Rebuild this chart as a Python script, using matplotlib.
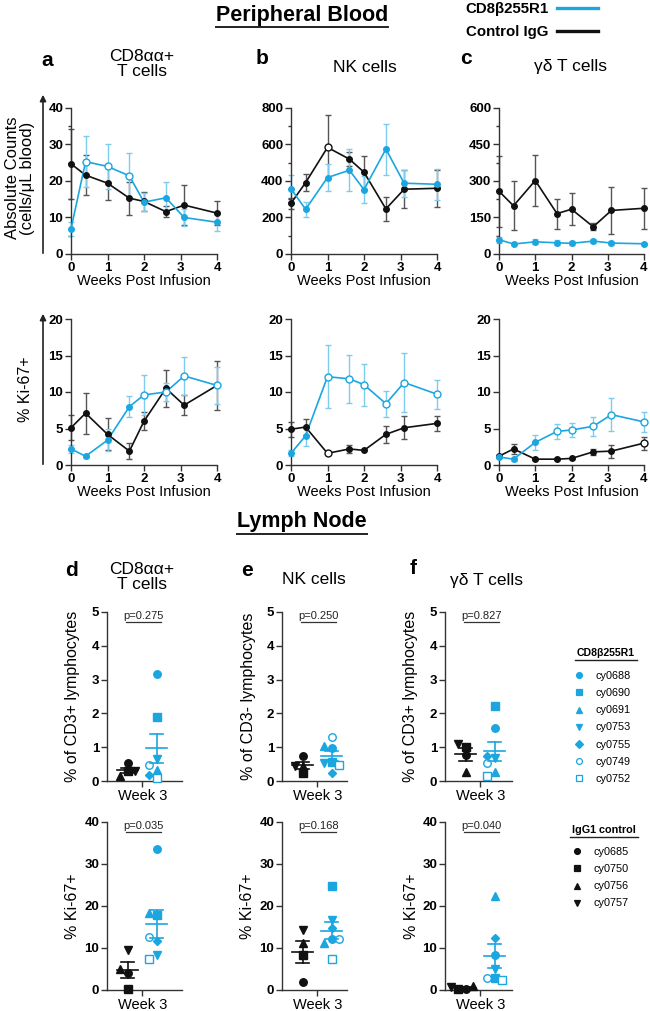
import numpy as np
import matplotlib
matplotlib.use('Agg')
import matplotlib.pyplot as plt
from matplotlib.lines import Line2D
from matplotlib.patches import FancyArrowPatch

# ---------------- DATA ----------------
weeks = [0, 0.4, 1, 1.6, 2, 2.6, 3.1, 4]

cd8_abs_trt = [6.9, 25.3, 24.0, 21.4, 14.2, 15.4, 10.0, 8.7]
cd8_abs_trt_err = [2.0, 7.0, 6.2, 6.2, 2.5, 4.2, 2.3, 2.3]
cd8_abs_ctl = [24.7, 21.6, 19.4, 15.3, 14.4, 11.6, 13.4, 11.2]
cd8_abs_ctl_err = [9.5, 5.5, 4.5, 4.5, 2.5, 1.5, 5.4, 3.2]

nk_abs_trt = [357, 245, 419, 459, 353, 575, 388, 382]
nk_abs_trt_err = [75, 40, 75, 115, 75, 140, 75, 85]
nk_abs_ctl = [278, 391, 584, 520, 448, 247, 355, 360]
nk_abs_ctl_err = [30, 45, 175, 40, 90, 65, 105, 100]

gd_abs_trt = [59, 41, 50, 46, 44, 53, 45, 42]
gd_abs_trt_err = [12, 5, 10, 10, 9, 8, 10, 5]
gd_abs_ctl = [258, 198, 302, 166, 184, 112, 179, 188]
gd_abs_ctl_err = [145, 100, 105, 62, 65, 15, 95, 85]

cd8_ki_trt = [2.2, 1.2, 3.4, 8.0, 9.6, 10.0, 12.2, 10.9]
cd8_ki_trt_err = [0.5, 0.2, 1.5, 1.4, 2.7, 1.3, 2.6, 2.5]
cd8_ki_ctl = [5.1, 7.1, 4.2, 1.9, 6.0, 10.5, 8.2, 10.9]
cd8_ki_ctl_err = [1.7, 2.8, 2.2, 1.1, 1.2, 2.5, 1.4, 3.3]

nk_ki_trt = [1.6, 4.0, 12.1, 11.8, 11.0, 8.4, 11.3, 9.7]
nk_ki_trt_err = [0.4, 1.4, 4.3, 3.3, 2.9, 1.8, 4.0, 2.0]
nk_ki_ctl = [4.9, 5.2, 1.6, 2.2, 2.0, 4.2, 5.1, 5.7]
nk_ki_ctl_err = [1.0, 1.1, 0.0, 0.6, 0.0, 1.2, 1.6, 1.0]

gd_ki_trt = [1.1, 0.8, 3.1, 4.6, 4.8, 5.3, 6.9, 5.9]
gd_ki_trt_err = [0.2, 0.2, 1.0, 1.0, 1.0, 1.3, 2.3, 1.4]
gd_ki_ctl = [1.2, 2.2, 0.8, 0.8, 0.9, 1.8, 1.9, 3.0]
gd_ki_ctl_err = [0.2, 0.7, 0.1, 0.1, 0.1, 0.4, 0.9, 0.9]

trt_animals = ['cy0688', 'cy0690', 'cy0691', 'cy0753', 'cy0755', 'cy0749', 'cy0752']
ctl_animals = ['cy0685', 'cy0750', 'cy0756', 'cy0757']

d_top_trt = [3.17, 1.90, 0.32, 0.65, 0.18, 0.47, 0.08]
d_top_ctl = [0.52, 0.30, 0.16, 0.30]
d_bot_trt = [33.5, 17.9, 18.4, 8.3, 11.7, 12.7, 7.3]
d_bot_ctl = [4.1, 0.2, 4.9, 9.5]
e_top_trt = [0.97, 0.57, 1.04, 0.54, 0.23, 1.31, 0.47]
e_top_ctl = [0.74, 0.23, 0.45, 0.45]
e_bot_trt = [12.1, 24.8, 11.3, 16.7, 14.7, 12.1, 7.3]
e_bot_ctl = [2.0, 8.3, 11.1, 14.4]
f_top_trt = [1.58, 2.22, 0.28, 0.69, 0.74, 0.52, 0.15]
f_top_ctl = [0.77, 1.00, 0.28, 1.09]
f_bot_trt = [8.3, 2.9, 22.5, 5.1, 12.4, 2.9, 2.5]
f_bot_ctl = [0.3, 0.2, 0.9, 0.8]

p_values = ['p=0.275', 'p=0.250', 'p=0.827', 'p=0.035', 'p=0.168', 'p=0.040']

# ---------------- STYLE ----------------
plt.rcParams['font.family'] = ['Liberation Sans', 'DejaVu Sans']
BLUE = '#1BA6E0'
BLUE_ERR = '#7DCCEF'
BLACK = '#111111'
BLACK_ERR = '#555555'
AXC = '#333333'
TICK_FS = 9.5

W, H = 650, 1011
fig = plt.figure(figsize=(6.5, 10.11), dpi=100)


def rect(x0, y0, x1, y1):
    return [x0 / W, 1 - y1 / H, (x1 - x0) / W, (y1 - y0) / H]


def fx(x):
    return x / W


def fy(y):
    return 1 - y / H


def style_axes(ax):
    for s in ['top', 'right']:
        ax.spines[s].set_visible(False)
    for s in ['left', 'bottom']:
        ax.spines[s].set_color(AXC)
        ax.spines[s].set_linewidth(1.0)
    ax.tick_params(axis='both', which='major', length=4, width=1.0, color=AXC,
                   labelsize=TICK_FS, pad=1.5)
    ax.tick_params(axis='both', which='minor', length=2.5, width=1.0, color=AXC)
    for lab in ax.get_yticklabels():
        lab.set_fontweight('bold')


# open-marker indices (style)
open_idx = {
    ('a', 'trt'): [1, 2, 3], ('a', 'ctl'): [],
    ('b', 'trt'): [], ('b', 'ctl'): [2],
    ('c', 'trt'): [], ('c', 'ctl'): [],
    ('a2', 'trt'): [4, 5, 6, 7], ('a2', 'ctl'): [],
    ('b2', 'trt'): [2, 3, 4, 5, 6, 7], ('b2', 'ctl'): [2],
    ('c2', 'trt'): [3, 4, 5, 6, 7], ('c2', 'ctl'): [7],
}


def line_panel(ax, key, trt, trt_err, ctl, ctl_err, ymax, ystep, minor):
    x = np.array(weeks)
    for vals, errs, col, ecol, grp in [(ctl, ctl_err, BLACK, BLACK_ERR, 'ctl'),
                                       (trt, trt_err, BLUE, BLUE_ERR, 'trt')]:
        vals = np.array(vals)
        ax.errorbar(x, vals, yerr=errs, fmt='none', ecolor=ecol, elinewidth=1.0,
                    capsize=2.5, capthick=1.0, clip_on=False, zorder=2)
        ax.plot(x, vals, '-', color=col, lw=1.2, clip_on=False, zorder=3)
        oi = open_idx[(key, grp)]
        fi = [i for i in range(len(x)) if i not in oi]
        ax.plot(x[fi], vals[fi], 'o', color=col, ms=4, ls='none', clip_on=False, zorder=4)
        if oi:
            ax.plot(x[oi], vals[oi], 'o', mfc='white', mec=col, mew=1.0, ms=5,
                    ls='none', clip_on=False, zorder=5)
    ax.set_xlim(0, 4)
    ax.set_ylim(0, ymax)
    ax.set_xticks([0, 1, 2, 3, 4])
    ax.set_yticks(np.arange(0, ymax + 1e-9, ystep))
    if minor:
        ax.set_yticks(np.arange(ystep / 2, ymax, ystep), minor=True)
    style_axes(ax)
    for lab in ax.get_xticklabels():
        lab.set_fontweight('bold')
    ax.set_xlabel('Weeks Post Infusion', fontsize=10.5, labelpad=0)


# ---------- Top row line plots ----------
rows = [(108, 254), (319, 465)]
cols = [(71, 217), (291, 437), (499, 644)]

ax_a = fig.add_axes(rect(cols[0][0], rows[0][0], cols[0][1], rows[0][1]))
line_panel(ax_a, 'a', cd8_abs_trt, cd8_abs_trt_err, cd8_abs_ctl, cd8_abs_ctl_err, 40, 10, True)
ax_b = fig.add_axes(rect(cols[1][0], rows[0][0], cols[1][1], rows[0][1]))
line_panel(ax_b, 'b', nk_abs_trt, nk_abs_trt_err, nk_abs_ctl, nk_abs_ctl_err, 800, 200, True)
ax_c = fig.add_axes(rect(cols[2][0], rows[0][0], cols[2][1], rows[0][1]))
line_panel(ax_c, 'c', gd_abs_trt, gd_abs_trt_err, gd_abs_ctl, gd_abs_ctl_err, 600, 150, True)

ax_a2 = fig.add_axes(rect(cols[0][0], rows[1][0], cols[0][1], rows[1][1]))
line_panel(ax_a2, 'a2', cd8_ki_trt, cd8_ki_trt_err, cd8_ki_ctl, cd8_ki_ctl_err, 20, 5, False)
ax_b2 = fig.add_axes(rect(cols[1][0], rows[1][0], cols[1][1], rows[1][1]))
line_panel(ax_b2, 'b2', nk_ki_trt, nk_ki_trt_err, nk_ki_ctl, nk_ki_ctl_err, 20, 5, False)
ax_c2 = fig.add_axes(rect(cols[2][0], rows[1][0], cols[2][1], rows[1][1]))
line_panel(ax_c2, 'c2', gd_ki_trt, gd_ki_trt_err, gd_ki_ctl, gd_ki_ctl_err, 20, 5, False)

ax_a.set_ylabel('Absolute Counts\n(cells/\u03bcL blood)', fontsize=12, linespacing=1.05,
                va='center')
ax_a.yaxis.set_label_coords((20 - 71) / 146, 0.52)
ax_a2.set_ylabel('% Ki-67+', fontsize=11.5, va='center')
ax_a2.yaxis.set_label_coords((25 - 71) / 146, 0.52)

# arrows left of ylabels
for (y0, y1) in [(256, 92), (467, 311)]:
    fig.add_artist(FancyArrowPatch((fx(43), fy(y0)), (fx(43), fy(y1)),
                                   transform=fig.transFigure, arrowstyle='-|>',
                                   mutation_scale=9, lw=1.2, color='#222222'))

# titles
LET_FS = 15
TIT_FS = 12.5
fig.text(fx(47), fy(60), 'a', fontsize=LET_FS, fontweight='bold', ha='center', va='center')
fig.text(fx(142), fy(64), 'CD8\u03b1\u03b1+\nT cells', fontsize=TIT_FS, ha='center', va='center',
         linespacing=1.05)
fig.text(fx(262), fy(58), 'b', fontsize=LET_FS, fontweight='bold', ha='center', va='center')
fig.text(fx(365), fy(67), 'NK cells', fontsize=TIT_FS, ha='center', va='center')
fig.text(fx(466), fy(58), 'c', fontsize=LET_FS, fontweight='bold', ha='center', va='center')
fig.text(fx(571), fy(67), '\u03b3\u03b4 T cells', fontsize=TIT_FS, ha='center', va='center')

underlined = []
underlined.append(fig.text(fx(302), fy(15), 'Peripheral Blood', fontsize=15.5, fontweight='bold',
                           ha='center', va='center'))
underlined.append(fig.text(fx(302), fy(522), 'Lymph Node', fontsize=15.5, fontweight='bold',
                           ha='center', va='center'))

# top legend
top_handles = [Line2D([], [], color=BLUE, lw=2.4), Line2D([], [], color=BLACK, lw=2.4)]
leg_top = fig.legend(top_handles, ['CD8\u03b2255R1', 'Control IgG'], loc='upper right',
                     bbox_to_anchor=(fx(598), fy(2)), frameon=False, markerfirst=False,
                     prop={'weight': 'bold', 'size': 10.8}, handlelength=2.75,
                     handletextpad=0.55, labelspacing=0.62, borderpad=0, borderaxespad=0)

# ---------- Dot plots ----------
trt_markers = [('o', True), ('s', True), ('^', True), ('v', True), ('D', True),
               ('o', False), ('s', False)]
ctl_markers = [('o', True), ('s', True), ('^', True), ('v', True)]
SX = 29.0  # px per x unit


def swarm(vals, sy, d=7.5):
    placed, offs = [], []
    for v in vals:
        yp = v * sy
        xp = 0.0
        for k in [0, -1, 1, -2, 2, -3, 3]:
            xp = k * d
            if all((xp - a) ** 2 + (yp - b) ** 2 >= d * d * 0.9 for a, b in placed):
                break
        placed.append((xp, yp))
        offs.append(xp / SX)
    return offs


def dot_panel(ax, x0, x1, y0, y1, trt, ctl, ymax, ystep, pval, ylabel):
    wpx = x1 - x0
    hpx = y1 - y0
    sy = hpx / ymax
    ax.set_xlim(-0.72, wpx / SX - 0.72)
    ax.set_ylim(0, ymax)
    for g, vals, mk, col in [(0, ctl, ctl_markers, BLACK), (1, trt, trt_markers, BLUE)]:
        vals = np.array(vals)
        offs = swarm(vals, sy)
        for v, o, (m, filled) in zip(vals, offs, mk):
            ms = 4.4 if m == 'D' else 5.4
            if m in ('^', 'v'):
                ms = 5.8
            ax.plot(g + o, v, m, ms=ms, color=col, mfc=col if filled else 'white',
                    mec=col, mew=1.0, ls='none', clip_on=False, zorder=3)
        mean = vals.mean()
        sem = vals.std(ddof=1) / np.sqrt(len(vals))
        hw = 10.5 / SX
        cw = 6.5 / SX
        ax.plot([g - hw, g + hw], [mean, mean], color=col, lw=1.2, zorder=4)
        ax.plot([g, g], [mean - sem, mean + sem], color=col, lw=1.2, zorder=4)
        ax.plot([g - cw, g + cw], [mean + sem, mean + sem], color=col, lw=1.2, zorder=4)
        ax.plot([g - cw, g + cw], [mean - sem, mean - sem], color=col, lw=1.2, zorder=4)
    # p-value bracket
    yl = ymax * 0.943
    ax.plot([-0.05, 1.15], [yl, yl], color='#333333', lw=0.9, clip_on=False)
    ax.text(0.55, yl + ymax * 0.004, pval, fontsize=8, ha='center', va='bottom',
            color='#222222')
    ax.set_xticks([0.5])
    ax.set_xticklabels(['Week 3'])
    ax.set_yticks(np.arange(0, ymax + 1e-9, ystep))
    style_axes(ax)
    ax.tick_params(axis='x', labelsize=10.5)
    ax.set_ylabel(ylabel, fontsize=11.5, va='center')
    ax.yaxis.set_label_coords((-34) / wpx, 0.5)


drow = [(612, 781), (822, 990)]
dcols = [(107, 182), (282, 347), (445, 512)]
dot_sets = [
    (d_top_trt, d_top_ctl, d_bot_trt, d_bot_ctl, '% of CD3+ lymphocytes'),
    (e_top_trt, e_top_ctl, e_bot_trt, e_bot_ctl, '% of CD3- lymphocytes'),
    (f_top_trt, f_top_ctl, f_bot_trt, f_bot_ctl, '% of CD3+ lymphocytes'),
]
for i, ((x0, x1), (tt, tc, bt, bc, yl)) in enumerate(zip(dcols, dot_sets)):
    axt = fig.add_axes(rect(x0, drow[0][0], x1, drow[0][1]))
    dot_panel(axt, x0, x1, drow[0][0], drow[0][1], tt, tc, 5, 1, p_values[i], yl)
    axb = fig.add_axes(rect(x0, drow[1][0], x1, drow[1][1]))
    dot_panel(axb, x0, x1, drow[1][0], drow[1][1], bt, bc, 40, 10, p_values[i + 3], '% Ki-67+')

fig.text(fx(72), fy(571), 'd', fontsize=LET_FS, fontweight='bold', ha='center', va='center')
fig.text(fx(142), fy(577), 'CD8\u03b1\u03b1+\nT cells', fontsize=TIT_FS, ha='center', va='center',
         linespacing=1.05)
fig.text(fx(247), fy(571), 'e', fontsize=LET_FS, fontweight='bold', ha='center', va='center')
fig.text(fx(314), fy(580), 'NK cells', fontsize=TIT_FS, ha='center', va='center')
fig.text(fx(413), fy(569), 'f', fontsize=LET_FS, fontweight='bold', ha='center', va='center')
fig.text(fx(487), fy(580), '\u03b3\u03b4 T cells', fontsize=TIT_FS, ha='center', va='center')


# animal legends
def mk_handle(m, filled, col):
    ms = 3.6 if m == 'D' else 4.2
    return Line2D([], [], marker=m, ls='none', color=col, mfc=col if filled else 'white',
                  mec=col, mew=0.9, ms=ms)


leg1 = fig.legend([mk_handle(m, f, BLUE) for m, f in trt_markers], trt_animals,
                  loc='upper left', bbox_to_anchor=(fx(574), fy(671)), frameon=False,
                  fontsize=7.8, handlelength=1.0, handletextpad=1.0, labelspacing=0.66,
                  borderpad=0, borderaxespad=0)
leg2 = fig.legend([mk_handle(m, f, BLACK) for m, f in ctl_markers], ctl_animals,
                  loc='upper left', bbox_to_anchor=(fx(572), fy(847)), frameon=False,
                  fontsize=7.8, handlelength=1.0, handletextpad=1.0, labelspacing=0.66,
                  borderpad=0, borderaxespad=0)

leg_titles = [fig.text(fx(606), fy(653), 'CD8\u03b2255R1', fontsize=7.6, fontweight='bold',
                       ha='center', va='center'),
              fig.text(fx(604), fy(830), 'IgG1 control', fontsize=7.8, fontweight='bold',
                       ha='center', va='center')]

# underlines
fig.canvas.draw()
r = fig.canvas.get_renderer()
for t in underlined:
    bb = t.get_window_extent(r)
    yy = bb.y0 - 1.0
    fig.add_artist(Line2D([bb.x0 / W, bb.x1 / W], [yy / H, yy / H], color='#222222',
                          lw=1.4, transform=fig.transFigure))
for t in leg_titles:
    bb = t.get_window_extent(r)
    yy = bb.y0 - 2.0
    fig.add_artist(Line2D([(bb.x0 - 2) / W, (bb.x1 + 2) / W], [yy / H, yy / H], color='#222222',
                          lw=1.0, transform=fig.transFigure))

fig.savefig('out.png', dpi=100)
